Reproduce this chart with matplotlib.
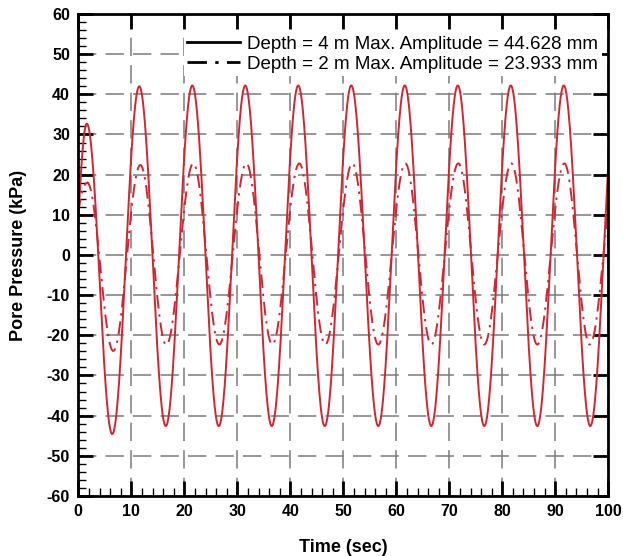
import numpy as np
import matplotlib
matplotlib.use('Agg')
import matplotlib.pyplot as plt
from matplotlib.ticker import MultipleLocator

plt.rcParams['font.family'] = ['Liberation Sans', 'DejaVu Sans']
plt.rcParams['axes.unicode_minus'] = False

#DATA (peaks and troughs)
depth4_t = [-2.6, 1.6, 6.4, 11.5, 16.5, 21.5, 26.5, 31.5, 36.5, 41.5, 46.5,
            51.5, 56.6, 61.6, 66.6, 71.6, 76.6, 81.6, 86.6, 91.6, 96.6, 101.6]
depth4_p = [-44.0, 32.7, -44.6, 42.0, -42.6, 42.2, -42.6, 42.2, -42.6, 42.2, -42.6,
            42.2, -42.6, 42.2, -42.6, 42.2, -42.6, 42.2, -42.6, 42.2, -42.6, 42.2]

depth2_t = [-4.5, 1.7, 6.6, 11.7, 16.6, 21.7, 26.6, 31.7, 36.6, 41.7, 46.6,
            51.7, 56.6, 61.7, 66.6, 71.7, 76.6, 81.7, 86.6, 91.7, 96.5, 101.7]
depth2_p = [-23.0, 18.0, -23.9, 22.4, -22.4, 22.8, -22.3, 22.8, -22.3, 22.8, -22.3,
            22.8, -22.3, 22.8, -22.3, 22.8, -22.3, 22.8, -22.3, 22.8, -22.3, 22.8]

labels = ['Depth = 4 m Max. Amplitude = 44.628 mm',
          'Depth = 2 m Max. Amplitude = 23.933 mm']

#join extrema with half cosine pieces
def wave(ts, ps):
    xs = []
    ys = []
    for i in range(len(ts) - 1):
        s = np.linspace(0, 1, 60)
        xs.append(ts[i] + (ts[i+1] - ts[i]) * s)
        ys.append(ps[i] + (ps[i+1] - ps[i]) * (1 - np.cos(np.pi * s)) / 2)
    return np.concatenate(xs), np.concatenate(ys)

x4, y4 = wave(depth4_t, depth4_p)
x2, y2 = wave(depth2_t, depth2_p)

red = '#cc2733'
fig = plt.figure(figsize=(6.23, 5.56), dpi=100)
ax = fig.add_axes([0.1257, 0.108, 0.8507, 0.8668])

ax.plot(x4, y4, color=red, lw=1.4, label=labels[0])
ax.plot(x2, y2, color=red, lw=1.4, dashes=(7, 3, 1.2, 3), label=labels[1])

ax.set_xlim(0, 100)
ax.set_ylim(-60, 60)
ax.xaxis.set_major_locator(MultipleLocator(10))
ax.xaxis.set_minor_locator(MultipleLocator(2))
ax.yaxis.set_major_locator(MultipleLocator(10))
ax.yaxis.set_minor_locator(MultipleLocator(2))

ax.grid(True, which='major', color='#7a7a7a', lw=1.1, dashes=(12, 6))
ax.set_axisbelow(True)

ax.tick_params(which='major', direction='in', length=11, width=2, top=True, right=True,
               labelsize=11.5, pad=6)
ax.tick_params(which='minor', direction='in', length=6, width=1, top=False, right=False)
for lab in ax.get_xticklabels() + ax.get_yticklabels():
    lab.set_fontweight('bold')
for sp in ax.spines.values():
    sp.set_linewidth(2)

ax.set_xlabel('Time (sec)', fontsize=13, fontweight='bold', labelpad=14)
ax.set_ylabel('Pore Pressure (kPa)', fontsize=13, fontweight='bold', labelpad=14)

leg = ax.legend(loc='center', bbox_to_anchor=(0.593, 0.917), fontsize=13.5, frameon=True,
                fancybox=False, edgecolor='none', framealpha=1, handlelength=2.8,
                handletextpad=0.37, borderpad=0.2, labelspacing=0.15)
for h in leg.get_lines():
    h.set_color('black')
    h.set_linewidth(2)

plt.savefig('out.png', dpi=100)
